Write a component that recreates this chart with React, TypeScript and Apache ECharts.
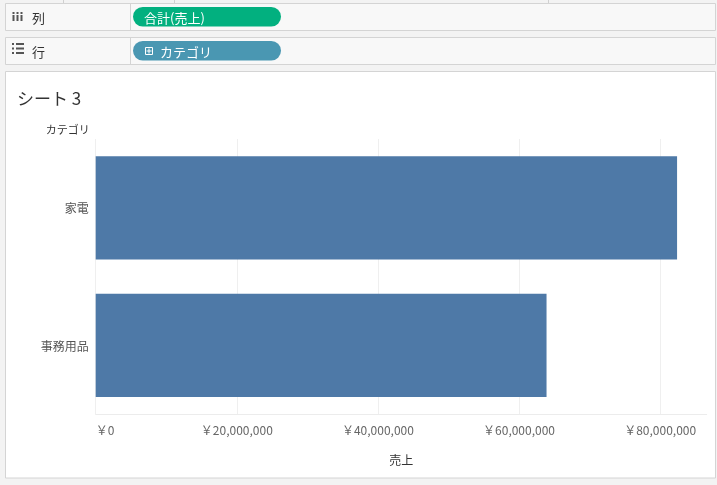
import React, { useEffect, useRef } from "react";
import * as echarts from "echarts";

const categories = ["家電", "事務用品"];
const sales = [82400000, 63900000];
const axisMax = 86600000;
const tickInterval = 20000000;

const sheetTitle = "シート 3";
const columnShelfLabel = "列";
const rowShelfLabel = "行";
const columnPill = "合計(売上)";
const rowPill = "カテゴリ";
const categoryAxisName = "カテゴリ";
const valueAxisName = "売上";

const FONT = "'Noto Sans CJK JP', 'Noto Sans', sans-serif";

const fmtYen = (v: number) => "￥" + Math.round(v).toLocaleString("en-US");

export default function App() {
  const ref = useRef<HTMLDivElement>(null);

  useEffect(() => {
    if (!ref.current) return;
    const chart = echarts.init(ref.current, null, { renderer: "svg" });

    const listIconRows = [44, 48.5, 53];
    const graphic: any[] = [
      // page background
      { type: "rect", z: -10, shape: { x: 0, y: 0, width: 717, height: 485 }, style: { fill: "#f3f3f3" }, silent: true },
      // faint top ticks
      ...[63, 174, 548].map((x) => ({ type: "line", z: -9, shape: { x1: x + 0.5, y1: 0, x2: x + 0.5, y2: 3 }, style: { stroke: "#d0d0d0", lineWidth: 1 } })),
      // column shelf
      { type: "rect", z: -9, shape: { x: 5.5, y: 3.5, width: 710, height: 27 }, style: { fill: "#f8f8f8", stroke: "#d4d4d4", lineWidth: 1 } },
      { type: "line", z: -8, shape: { x1: 130.5, y1: 3.5, x2: 130.5, y2: 30.5 }, style: { stroke: "#d4d4d4", lineWidth: 1 } },
      // row shelf
      { type: "rect", z: -9, shape: { x: 5.5, y: 37.5, width: 710, height: 27 }, style: { fill: "#f8f8f8", stroke: "#d4d4d4", lineWidth: 1 } },
      { type: "line", z: -8, shape: { x1: 130.5, y1: 37.5, x2: 130.5, y2: 64.5 }, style: { stroke: "#d4d4d4", lineWidth: 1 } },
      // iii icon
      ...[0, 1, 2].flatMap((i) => [
        { type: "rect", z: -7, shape: { x: 12.5 + i * 4, y: 12, width: 2, height: 2 }, style: { fill: "#555" } },
        { type: "rect", z: -7, shape: { x: 12.5 + i * 4, y: 15, width: 2, height: 6 }, style: { fill: "#555" } },
      ]),
      { type: "text", z: -7, x: 32, y: 17, style: { text: columnShelfLabel, font: `13px ${FONT}`, fill: "#333", verticalAlign: "middle" } },
      // list icon
      ...listIconRows.flatMap((y) => [
        { type: "rect", z: -7, shape: { x: 12, y: y - 1, width: 2, height: 2 }, style: { fill: "#555" } },
        { type: "rect", z: -7, shape: { x: 16, y: y - 1, width: 8, height: 2 }, style: { fill: "#555" } },
      ]),
      { type: "text", z: -7, x: 32, y: 51, style: { text: rowShelfLabel, font: `13px ${FONT}`, fill: "#333", verticalAlign: "middle" } },
      // pills
      { type: "rect", z: -7, shape: { x: 133, y: 7, width: 148, height: 19.5, r: 9.75 }, style: { fill: "#02b07f" } },
      { type: "text", z: -6, x: 144, y: 17, style: { text: columnPill, font: `13px ${FONT}`, fill: "#ffffff", verticalAlign: "middle" } },
      { type: "rect", z: -7, shape: { x: 133, y: 41, width: 148, height: 19.5, r: 9.75 }, style: { fill: "#4a97b2" } },
      { type: "rect", z: -6, shape: { x: 145.5, y: 47.5, width: 7, height: 7 }, style: { fill: "none", stroke: "#ffffff", lineWidth: 1 } },
      { type: "line", z: -6, shape: { x1: 146.5, y1: 51, x2: 151.5, y2: 51 }, style: { stroke: "#ffffff", lineWidth: 1 } },
      { type: "line", z: -6, shape: { x1: 149, y1: 48.5, x2: 149, y2: 53.5 }, style: { stroke: "#ffffff", lineWidth: 1 } },
      { type: "text", z: -6, x: 160, y: 51, style: { text: rowPill, font: `13px ${FONT}`, fill: "#ffffff", verticalAlign: "middle" } },
      // sheet panel
      { type: "rect", z: -9, shape: { x: 5.5, y: 71.5, width: 710, height: 406.5 }, style: { fill: "#ffffff", stroke: "#d4d4d4", lineWidth: 1 } },
      { type: "text", z: -7, x: 17, y: 97, style: { text: sheetTitle, font: `17px ${FONT}`, fill: "#333", verticalAlign: "middle" } },
    ];

    chart.setOption({
      animation: false,
      textStyle: { fontFamily: FONT },
      graphic,
      grid: { left: 95.7, right: 10.3, top: 139, bottom: 70.7, containLabel: false },
      xAxis: {
        type: "value",
        min: 0,
        max: axisMax,
        interval: tickInterval,
        name: valueAxisName,
        nameLocation: "middle",
        nameGap: 39,
        nameTextStyle: { color: "#333", fontSize: 12, fontFamily: FONT },
        axisLine: { show: true, lineStyle: { color: "#ececec", width: 1 } },
        axisTick: { show: false },
        axisLabel: {
          color: "#666",
          fontSize: 12,
          fontFamily: FONT,
          margin: 9,
          showMaxLabel: false,
          alignMinLabel: "left",
          formatter: (v: number) => (v % tickInterval === 0 ? fmtYen(v) : ""),
        },
        splitLine: { show: true, showMaxLine: false, lineStyle: { color: "#efefef", width: 1 } },
      },
      yAxis: {
        type: "category",
        data: categories,
        inverse: true,
        name: categoryAxisName,
        nameLocation: "start",
        nameGap: 10,
        nameTextStyle: { color: "#333", fontSize: 11, fontFamily: FONT, align: "right", verticalAlign: "middle", padding: [0, 6, 0, 0] },
        axisLine: { show: false },
        axisTick: { show: false },
        axisLabel: { color: "#555", fontSize: 12, fontFamily: FONT, margin: 7 },
        splitLine: { show: false },
      },
      series: [
        {
          type: "bar",
          data: sales,
          barCategoryGap: "25%",
          itemStyle: { color: "#4e79a7" },
          z: 3,
        },
      ],
    });

    return () => chart.dispose();
  }, []);

  return (
    <div
      ref={ref}
      style={{ position: "fixed", left: 0, top: 0, width: 717, height: 485 }}
    />
  );
}
